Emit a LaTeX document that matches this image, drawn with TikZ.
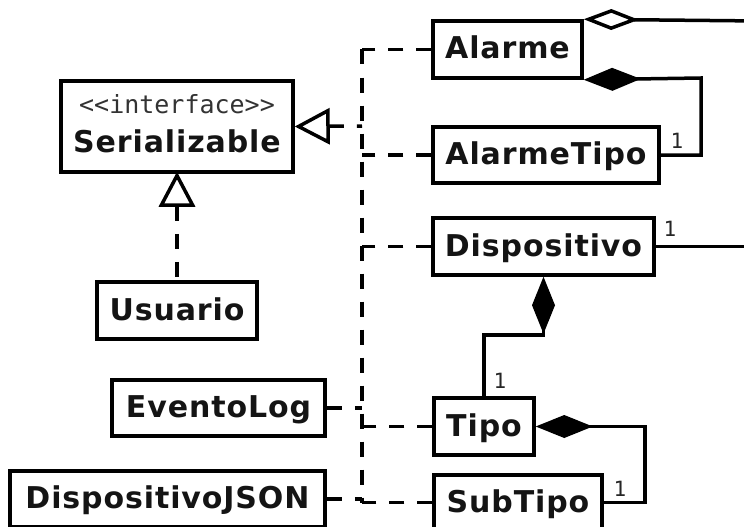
\documentclass[tikz,border=0pt]{standalone}
\usepackage{fontspec}
\setmainfont{DejaVu Sans}[LetterSpace=3]
\newfontfamily\monofont{DejaVu Sans Mono}
\usetikzlibrary{arrows.meta}
\tikzset{
  cls/.style={draw, line width=3.5pt, inner sep=0pt, minimum height=57pt, fill=white,
    font=\fontsize{30}{36}\selectfont\bfseries, text=black!92,
    text height=21pt, text depth=2pt},
  real/.style={line width=3.5pt, dash pattern=on 15pt off 13pt},
  realtip/.style={real, {Triangle[open, length=35pt, width=36pt]}-},
  assoc/.style={line width=3.5pt},
  comp/.style={assoc, {Diamond[length=57pt, width=23pt]}-},
  aggr/.style={assoc, {Diamond[open, length=55pt, width=21pt]}-},
  mult/.style={font=\monofont\fontsize{21}{23}\selectfont, inner sep=0pt, text=black!85},
}
\begin{document}
\begin{tikzpicture}[x=1pt, y=-1pt]
\useasboundingbox (0,0) rectangle (744,527);
\clip (0,0) rectangle (744,527);

% interface
\node[cls, minimum width=232pt, minimum height=91pt] (ser) at (177,126.5) {};
\node[anchor=base, inner sep=0pt, text=black!80,
      font=\monofont\fontsize{25}{27}\selectfont] (serst) at (177,113)
      {\symbol{"3C}\symbol{"3C}interface\symbol{"3E}\symbol{"3E}};
\node[anchor=base, inner sep=0pt, text=black!92,
      font=\fontsize{30}{36}\selectfont\bfseries] (sername) at (177,152) {Serializable};

% classes on the left
\node[cls, minimum width=160pt] (usu)   at (177,310.5)  {Usuario};
\node[cls, minimum width=213pt, minimum height=56pt] (evt)   at (218.5,408) {EventoLog};
\node[cls, minimum width=315pt, minimum height=56pt] (djson) at (167.5,499) {DispositivoJSON};

% classes on the right
\node[cls, minimum width=149pt] (alarme) at (507.5,49.5) {Alarme};
\node[cls, minimum width=226pt, minimum height=56pt] (atipo) at (546,155) {AlarmeTipo};
\node[cls, minimum width=221pt] (disp)   at (543.5,246.5) {Dispositivo};
\node[cls, minimum width=100pt] (tipo)   at (484,426.5) {Tipo};
\node[cls, minimum width=168pt, minimum height=55pt] (sub) at (518,502.5) {SubTipo};

% realizations of Serializable: one dashed spine with a branch per class
\coordinate (jn)  at (362,126);
\coordinate (top) at (alarme.west -| jn);
\coordinate (bot) at (sub.west -| jn);
\draw[real] (top) -- (bot);
\draw[real] (alarme.west) -- (top);
\draw[real] (atipo.west)  -- (atipo.west -| jn);
\draw[real] (disp.west)   -- (disp.west -| jn);
\draw[real] (tipo.west)   -- (tipo.west -| jn);
\draw[real] (sub.west)    -- (bot);
\draw[real] (evt.east)    -- (evt.east -| jn);
\draw[real] (djson.east)  -- (djson.east -| jn);
\draw[realtip] (ser.east) -- (jn);
\draw[realtip] ([yshift=2pt]ser.south) -- (usu.north);

% associations
\coordinate (offA) at (760,21);
\coordinate (offD) at (760,246.5);
\draw[aggr] (alarme.north east) -- (offA);

\coordinate (bA) at (701,78);
\draw[comp] (alarme.south east) -- (bA) |- (atipo.east);
\node[mult] (m1) at (677,141) {1};

\draw[assoc] (disp.east) -- (offD);
\node[mult] (m2) at (670,229) {1};

\coordinate (bD) at (543.5,335);
\draw[comp] (disp.south) -- (bD) -| (tipo.north);
\node[mult] (m3) at (500,381) {1};

\coordinate (bT) at (645,426.5);
\draw[comp] (tipo.east) -- (bT) |- (sub.east);
\node[mult] (m4) at (620,489) {1};
\end{tikzpicture}
\end{document}
